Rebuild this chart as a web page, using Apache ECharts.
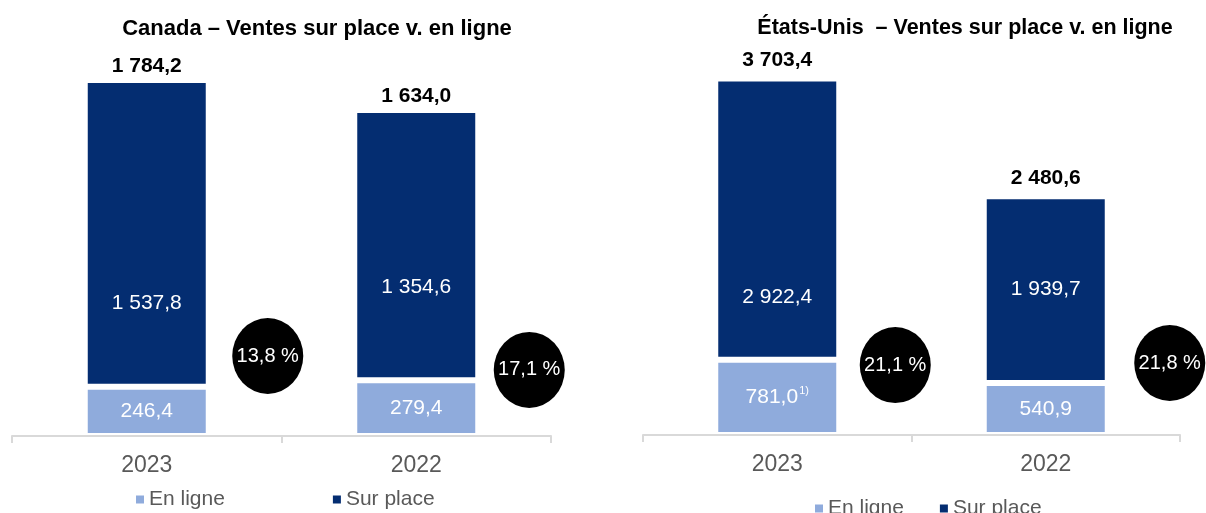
<!DOCTYPE html>
<html>
<head>
<meta charset="utf-8">
<script src="https://cdn.jsdelivr.net/npm/echarts@6/dist/echarts.min.js"></script>
<style>
  html, body { margin: 0; padding: 0; background: #fff; }
  #chart { width: 1206px; height: 513px; }
</style>
</head>
<body>
<div id="chart"></div>
<script>
// valeurs (M$)
const years = ['2023', '2022'];
const caOnline = [246.4, 279.4];
const caStore = [1537.8, 1354.6];
const caTotal = [1784.2, 1634.0];
const caShare = [13.8, 17.1];
const usOnline = [781.0, 540.9];
const usStore = [2922.4, 1939.7];
const usTotal = [3703.4, 2480.6];
const usShare = [21.1, 21.8];

const DARK = '#042D71';
const LIGHT = '#8FABDC';
const GREY = '#595959';
const FONT = '"Liberation Sans", Arial, sans-serif';

// format français : 1 784,2
function fr(v) {
  let parts = v.toFixed(1).split('.');
  let a = parts[0].replace(/\B(?=(\d{3})+(?!\d))/g, ' ');
  return a + ',' + parts[1];
}

function onlineSeries(gi, data, note) {
  return {
    name: 'En ligne', type: 'bar', stack: 's' + gi,
    xAxisIndex: gi, yAxisIndex: gi, barWidth: 124,
    itemStyle: { color: LIGHT, borderColor: '#fff', borderWidth: 3 },
    label: {
      show: true, position: 'inside', color: '#fff', fontSize: 21, fontFamily: FONT,
      formatter: p => (note && p.dataIndex === 0) ? '{v|' + fr(p.value) + '}{sup|1)}' : fr(p.value),
      rich: {
        v: { color: '#fff', fontSize: 21, fontFamily: FONT },
        sup: { color: '#fff', fontSize: 11, fontFamily: FONT, verticalAlign: 'top', padding: [0, 0, 12, 1] }
      }
    },
    data: data
  };
}

function storeSeries(gi, data, dy) {
  return {
    name: 'Sur place', type: 'bar', stack: 's' + gi,
    xAxisIndex: gi, yAxisIndex: gi, barWidth: 124,
    itemStyle: { color: DARK, borderColor: '#fff', borderWidth: 3 },
    label: {
      show: true, position: 'inside', color: '#fff', fontSize: 21, fontFamily: FONT,
      formatter: p => fr(p.value)
    },
    data: data.map((v, i) => ({ value: v, label: { offset: [0, dy[i]] } }))
  };
}

function totalSeries(gi, data, dist) {
  return {
    type: 'scatter', xAxisIndex: gi, yAxisIndex: gi,
    symbolSize: 1, itemStyle: { color: 'rgba(0,0,0,0)', opacity: 1 }, silent: true,
    label: {
      show: true, position: 'top', distance: dist, color: '#000',
      fontSize: 21, fontWeight: 'bold', fontFamily: FONT,
      formatter: p => fr(p.value[1])
    },
    data: data.map((v, i) => [i, v])
  };
}

function shareSeries(gi, data, ys, dx) {
  return {
    type: 'scatter', xAxisIndex: gi, yAxisIndex: gi, z: 3,
    symbol: 'circle', symbolSize: [71, 76], silent: true,
    itemStyle: { color: '#000', opacity: 1 },
    label: {
      show: true, position: 'inside', color: '#fff', fontSize: 20, fontFamily: FONT,
      formatter: p => data[p.dataIndex].toFixed(1).replace('.', ',') + ' %'
    },
    data: data.map((v, i) => ({ value: [i, ys[i]], symbolOffset: [dx[i], 0] }))
  };
}

function xAxis(gi) {
  return {
    type: 'category', gridIndex: gi, data: years, z: 10,
    axisLine: { lineStyle: { color: '#D9D9D9', width: 2 } },
    axisTick: { show: true, length: 7, lineStyle: { color: '#D9D9D9', width: 2 } },
    axisLabel: { fontSize: 23, color: GREY, fontFamily: FONT, margin: 18 }
  };
}

function yAxis(gi, max) {
  return { type: 'value', gridIndex: gi, min: 0, max: max, show: false, splitLine: { show: false } };
}

function legend(left, top, gap) {
  return {
    data: ['En ligne', 'Sur place'], left: left, top: top, itemGap: gap,
    icon: 'rect', itemWidth: 8, itemHeight: 8, itemStyle: { borderWidth: 0 },
    textStyle: { fontSize: 21, color: GREY, fontFamily: FONT }
  };
}

const chart = echarts.init(document.getElementById('chart'));
chart.setOption({
  animation: false,
  textStyle: { fontFamily: FONT },
  title: [
    { text: 'Canada – Ventes sur place v. en ligne', left: 317, top: 18, textAlign: 'center', padding: 0,
      textStyle: { fontSize: 22, fontWeight: 'bold', color: '#000', fontFamily: FONT } },
    { text: 'États-Unis  – Ventes sur place v. en ligne', left: 965, top: 17, textAlign: 'center', padding: 0,
      textStyle: { fontSize: 21.5, fontWeight: 'bold', color: '#000', fontFamily: FONT } }
  ],
  legend: [legend(131, 484, 108), legend(810, 493, 36)],
  grid: [
    { left: 12, width: 539, top: 37, height: 399 },
    { left: 643, width: 537, top: 50, height: 385 }
  ],
  xAxis: [xAxis(0), xAxis(1)],
  yAxis: [yAxis(0, 2000), yAxis(1, 4000)],
  series: [
    onlineSeries(0, caOnline, false),
    storeSeries(0, caStore, [70, 42]),
    totalSeries(0, caTotal, 3),
    shareSeries(0, caShare, [401, 331], [121, 113]),
    onlineSeries(1, usOnline, true),
    storeSeries(1, usStore, [78, 0]),
    totalSeries(1, usTotal, 7),
    shareSeries(1, usShare, [727, 748], [118, 124])
  ]
});
</script>
</body>
</html>
